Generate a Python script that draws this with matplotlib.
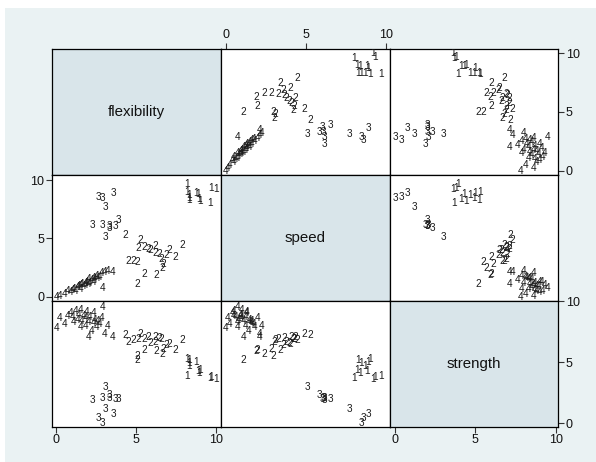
import matplotlib
matplotlib.use('Agg')
import matplotlib.pyplot as plt
from matplotlib.patches import Rectangle

plt.rcParams['font.family'] = ['Liberation Sans', 'DejaVu Sans']

variables = ['flexibility', 'speed', 'strength']
tick_values = [0, 5, 10]

# cluster 1
flex_1 = [9.6, 9.0, 8.3, 8.3, 8.9, 8.2, 10.0, 9.7, 8.2, 8.95, 8.3, 8.75]
speed_1 = [8.0, 8.2, 8.25, 8.7, 8.8, 9.0, 9.2, 9.3, 9.7, 8.35, 8.45, 8.9]
strength_1 = [3.7, 4.4, 5.2, 4.7, 4.3, 5.3, 3.6, 3.8, 3.9, 4.1, 4.9, 5.0]

# cluster 2
flex_2 = [7.9, 7.47, 7.04, 6.6, 6.66, 6.55, 6.9, 6.47, 6.27, 5.9, 6.19,
          5.53, 5.13, 5.25, 5.04, 4.84, 4.47, 5.04, 4.33, 5.53, 6.19, 5.76]
speed_2 = [4.46, 3.4, 4.04, 2.42, 2.83, 3.25, 3.56, 3.67, 1.9, 3.98, 4.33,
           1.96, 4.19, 4.88, 2.94, 3.08, 3.04, 1.06, 5.29, 4.25, 3.77, 4.1]
strength_2 = [6.8, 6.0, 6.5, 5.7, 6.1, 6.9, 6.4, 7.0, 5.9, 6.6, 7.1,
              6.0, 6.9, 7.3, 5.5, 6.8, 6.7, 5.2, 7.2, 6.9, 6.7, 7.1]

# cluster 3
flex_3 = [3.1, 3.3, 3.7, 2.9, 2.25, 3.9, 3.1, 2.9, 2.6, 3.6, 3.3]
speed_3 = [5.1, 5.85, 6.06, 6.17, 6.17, 6.54, 7.7, 8.46, 8.56, 8.9, 6.1]
strength_3 = [3.0, 2.3, 2.0, 2.1, 1.9, 2.0, 1.2, 0.0, 0.4, 0.8, 2.05]

# cluster 4
flex_4 = [0.0, 0.2, 0.5, 0.7, 0.9, 1.0, 1.1, 1.2, 1.3, 1.4, 1.5, 1.5, 1.6,
          1.7, 1.8, 1.8, 1.9, 2.0, 2.0, 2.1, 2.2, 2.3, 2.3, 2.4, 2.5, 2.6,
          2.7, 2.8, 2.9, 3.0, 3.2, 3.5]
speed_4 = [0.0, 0.1, 0.2, 0.5, 0.4, 0.6, 0.7, 0.5, 0.8, 0.9, 0.7, 1.0, 1.1,
           0.9, 1.2, 1.0, 1.3, 1.1, 1.5, 1.2, 1.4, 1.6, 1.3, 1.5, 1.8, 1.6,
           1.7, 2.0, 0.75, 2.1, 2.2, 2.1]
strength_4 = [7.8, 8.6, 8.1, 8.8, 9.0, 8.7, 8.3, 9.2, 8.5, 8.9, 7.9, 9.3, 8.4,
              8.8, 8.0, 8.6, 9.1, 7.1, 8.3, 8.7, 7.6, 8.2, 9.0, 8.5, 7.9, 8.4,
              8.1, 8.6, 9.5, 7.3, 8.0, 7.1]

clusters = {
    '1': [flex_1, speed_1, strength_1],
    '2': [flex_2, speed_2, strength_2],
    '3': [flex_3, speed_3, strength_3],
    '4': [flex_4, speed_4, strength_4],
}

W, H = 596, 462
xe = [52, 221, 390, 558]
ye = [48.5, 175, 301, 426.7]
xlims = [(-0.28, 10.31), (-0.31, 10.25), (-0.31, 10.14)]
ylims = [(-0.37, 10.41), (-0.37, 10.43), (-0.28, 10.02)]

fig = plt.figure(figsize=(W / 100, H / 100), dpi=100)
fig.patch.set_facecolor('white')
fig.add_artist(Rectangle((5 / W, 0), (W - 5) / W, (H - 8) / H,
                         transform=fig.transFigure, facecolor='#EAF2F3',
                         edgecolor='none', zorder=-10))

for r in range(3):
    for c in range(3):
        ax = fig.add_axes([xe[c] / W, 1 - ye[r + 1] / H,
                           (xe[c + 1] - xe[c]) / W, (ye[r + 1] - ye[r]) / H])
        ax.set_xlim(*xlims[c])
        ax.set_ylim(*ylims[r])
        for s in ax.spines.values():
            s.set_linewidth(0.9)
            s.set_color('black')
        if r == c:
            ax.set_facecolor('#D9E5EA')
            ax.text(0.5, 0.5, variables[r], transform=ax.transAxes,
                    ha='center', va='center', fontsize=10.8, color='#111111')
        else:
            ax.set_facecolor('white')
            for lab, vals in clusters.items():
                xs = vals[c]
                ys = vals[r]
                for x, y in zip(xs, ys):
                    ax.text(x, y, lab, ha='center', va='center',
                            fontsize=7.2, color='#1a1a1a', clip_on=True)
        # ticks
        ax.tick_params(length=4, width=0.8, color='#333333', labelsize=9,
                       pad=1.5, labelcolor='#111111')
        # x ticks
        if c == 1 and r == 0:
            ax.xaxis.tick_top()
            ax.set_xticks(tick_values)
            ax.set_xticklabels([str(t) for t in tick_values])
        elif c in (0, 2) and r == 2:
            ax.set_xticks(tick_values)
            ax.set_xticklabels([str(t) for t in tick_values])
        else:
            ax.set_xticks([])
        # y ticks
        if r in (0, 2) and c == 2:
            ax.yaxis.tick_right()
            ax.set_yticks(tick_values)
            ax.set_yticklabels([str(t) for t in tick_values])
        elif r == 1 and c == 0:
            ax.set_yticks(tick_values)
            ax.set_yticklabels([str(t) for t in tick_values])
        else:
            ax.set_yticks([])

fig.savefig('out.png', dpi=100, facecolor=fig.get_facecolor())
